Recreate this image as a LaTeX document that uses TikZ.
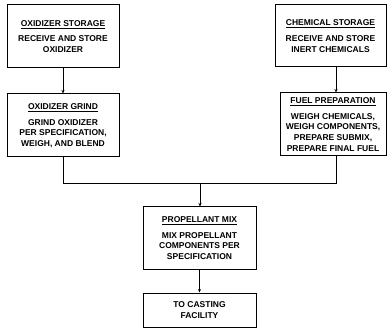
\documentclass[tikz,border=0pt]{standalone}
\usepackage{fontspec}
\setmainfont{Liberation Sans}
\usetikzlibrary{arrows.meta}
\begin{document}
\begin{tikzpicture}[x=1pt,y=-1pt,
  box/.style={draw, line width=1pt, inner sep=0pt, align=center,
    font=\bfseries\fontsize{8.5}{10.6}\selectfont},
  link/.style={line width=0.6pt, -{Stealth[length=3.5pt,width=3pt]}},
  plainline/.style={line width=0.6pt}]
\useasboundingbox (0,0) rectangle (387,328);
\node[box, minimum width=112pt, minimum height=63pt] (os) at (63,36.5)
  {\underline{OXIDIZER STORAGE}\\[5pt]RECEIVE AND STORE\\OXIDIZER};
\node[box, minimum width=112pt, minimum height=63pt] (og) at (63,125.5)
  {\underline{OXIDIZER GRIND}\\[5pt]GRIND OXIDIZER\\PER SPECIFICATION,\\WEIGH, AND BLEND};
\node[box, minimum width=111pt, minimum height=62pt] (cs) at (330.5,36)
  {\underline{CHEMICAL STORAGE}\\[5pt]RECEIVE AND STORE\\INERT CHEMICALS};
\node[box, minimum width=106pt, minimum height=63pt] (fp) at (333,124.5)
  {\underline{FUEL PREPARATION}\\[5pt]WEIGH CHEMICALS,\\WEIGH COMPONENTS,\\PREPARE SUBMIX,\\PREPARE FINAL FUEL};
\node[box, minimum width=113pt, minimum height=62pt] (pm) at (199.5,238)
  {\underline{PROPELLANT MIX}\\[5pt]MIX PROPELLANT\\COMPONENTS PER\\SPECIFICATION};
\node[box, minimum width=113pt, minimum height=34pt] (cf) at (199.5,310)
  {TO CASTING\\FACILITY};
\coordinate (rx) at (336,0);
\coordinate (j) at (200,183);
\draw[link] (os.south) -- (og.north);
\draw[link] (rx |- cs.south) -- (rx |- fp.north);
\draw[plainline] (og.south) |- (j);
\draw[plainline] (rx |- fp.south) |- (j);
\draw[link] (j) -- (j |- pm.north);
\draw[link] (pm.south) -- (cf.north);
\end{tikzpicture}
\end{document}
